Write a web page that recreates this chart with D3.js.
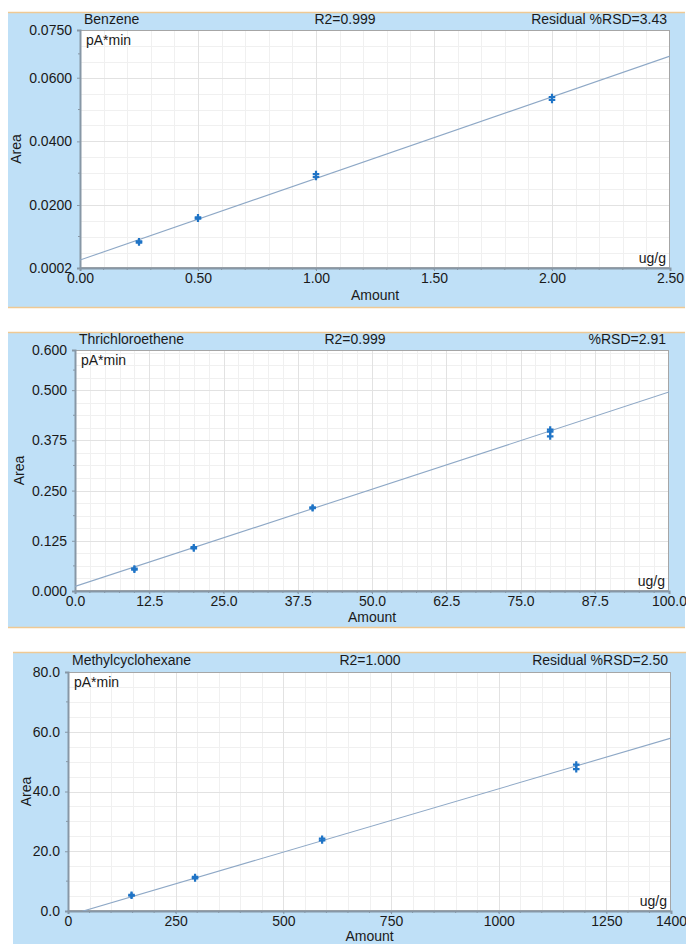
<!DOCTYPE html>
<html><head><meta charset="utf-8">
<script src="https://cdn.jsdelivr.net/npm/d3@7"></script>
<style>
body{margin:0;background:#fff;}
svg{display:block;font-family:"Liberation Sans",Arial,sans-serif;}
</style>
</head><body><svg id="c" width="686" height="944"></svg>
<script>
// ---------- data ----------
const benzeneAmount = [0.25, 0.25, 0.5, 0.5, 1.0, 1.0, 2.0, 2.0];
const benzeneArea   = [0.0082, 0.0086, 0.0157, 0.0161, 0.0288, 0.0297, 0.0530, 0.0539];
const benzeneFit    = [0.0027, 0.02564];           // intercept, slope
const benzeneXTicks = [0, 0.5, 1.0, 1.5, 2.0, 2.5];
const benzeneXLabels = ["0.00", "0.50", "1.00", "1.50", "2.00", "2.50"];
const benzeneYTicks = [0.0002, 0.02, 0.04, 0.06, 0.075];
const benzeneYLabels = ["0.0002", "0.0200", "0.0400", "0.0600", "0.0750"];

const tceAmount = [10, 10, 20, 20, 40, 40, 80, 80, 80];
const tceArea   = [0.053, 0.056, 0.106, 0.109, 0.206, 0.208, 0.385, 0.397, 0.402];
const tceFit    = [0.0114, 0.00484];
const tceXTicks = [0, 12.5, 25, 37.5, 50, 62.5, 75, 87.5, 100];
const tceXLabels = ["0.0", "12.5", "25.0", "37.5", "50.0", "62.5", "75.0", "87.5", "100.0"];
const tceYTicks = [0, 0.125, 0.25, 0.375, 0.5, 0.6];
const tceYLabels = ["0.000", "0.125", "0.250", "0.375", "0.500", "0.600"];

const mchAmount = [147.5, 147.5, 295, 295, 590, 590, 1180, 1180];
const mchArea   = [5.1, 5.4, 10.9, 11.4, 23.6, 24.2, 47.5, 49.0];
const mchFit    = [-1.506, 0.04242];
const mchXTicks = [0, 250, 500, 750, 1000, 1250, 1400];
const mchXLabels = ["0", "250", "500", "750", "1000", "1250", "1400"];
const mchYTicks = [0, 20, 40, 60, 80];
const mchYLabels = ["0.0", "20.0", "40.0", "60.0", "80.0"];

const titles = ["Benzene", "Thrichloroethene", "Methylcyclohexane"];
const r2Texts = ["R2=0.999", "R2=0.999", "R2=1.000"];
const rsdTexts = ["Residual %RSD=3.43", "%RSD=2.91", "Residual %RSD=2.50"];

// ---------- layout ----------
const panels = [
  {title: titles[0], r2: r2Texts[0], rsd: rsdTexts[0], amount: benzeneAmount, area: benzeneArea, fit: benzeneFit,
   xTicks: benzeneXTicks, xLabels: benzeneXLabels, yTicks: benzeneYTicks, yLabels: benzeneYLabels,
   xDomain: [0, 2.5], yDomain: [0.0002, 0.075], xMinor: 0.1, yMinor: 0.005,
   box: {x0: 8, x1: 685, y0: 12, y1: 308}, plot: {l: 80, r: 670, t: 30, b: 268}, r2x: 345, areaX: 17, amtDy: 28},
  {title: titles[1], r2: r2Texts[1], rsd: rsdTexts[1], amount: tceAmount, area: tceArea, fit: tceFit,
   xTicks: tceXTicks, xLabels: tceXLabels, yTicks: tceYTicks, yLabels: tceYLabels,
   xDomain: [0, 100], yDomain: [0, 0.6], xMinor: 2.5, yMinor: 0.03125,
   box: {x0: 8, x1: 685, y0: 332, y1: 628}, plot: {l: 75, r: 669, t: 350, b: 591}, r2x: 355, areaX: 20, amtDy: 27},
  {title: titles[2], r2: r2Texts[2], rsd: rsdTexts[2], amount: mchAmount, area: mchArea, fit: mchFit,
   xTicks: mchXTicks, xLabels: mchXLabels, yTicks: mchYTicks, yLabels: mchYLabels,
   xDomain: [0, 1400], yDomain: [0, 80], xMinor: 50, yMinor: 5,
   box: {x0: 13, x1: 686, y0: 652, y1: 960}, plot: {l: 68, r: 671, t: 672, b: 911}, r2x: 370, areaX: 27, amtDy: 26}
];

const svg = d3.select("#c");

panels.forEach((p, pi) => {
  const g = svg.append("g");
  const B = p.box, P = p.plot;
  // panel background
  g.append("rect").attr("x", B.x0).attr("y", B.y0).attr("width", B.x1 - B.x0).attr("height", B.y1 - B.y0)
    .attr("fill", "#bfe0f7");
  g.append("line").attr("x1", B.x0).attr("x2", B.x1).attr("y1", B.y0 + 0.5).attr("y2", B.y0 + 0.5)
    .attr("stroke", "#efc994").attr("stroke-width", 1.5);
  g.append("line").attr("x1", B.x0).attr("x2", B.x1).attr("y1", B.y1 - 0.5).attr("y2", B.y1 - 0.5)
    .attr("stroke", "#efc994").attr("stroke-width", 1.5);

  const x = d3.scaleLinear().domain(p.xDomain).range([P.l, P.r]);
  const y = d3.scaleLinear().domain(p.yDomain).range([P.b, P.t]);

  // plot area
  g.append("rect").attr("x", P.l).attr("y", P.t).attr("width", P.r - P.l).attr("height", P.b - P.t)
    .attr("fill", "#ffffff");

  // minor grid
  const xm = d3.range(p.xDomain[0] + p.xMinor, p.xDomain[1] - 1e-9, p.xMinor);
  const ym = d3.range(Math.ceil(p.yDomain[0] / p.yMinor) * p.yMinor, p.yDomain[1] - 1e-9, p.yMinor).filter(v => v > p.yDomain[0] + 1e-9);
  g.append("g").selectAll("line").data(xm).join("line")
    .attr("x1", d => Math.round(x(d)) + 0.5).attr("x2", d => Math.round(x(d)) + 0.5)
    .attr("y1", P.t).attr("y2", P.b).attr("stroke", "#f0f0f0").attr("stroke-width", 1);
  g.append("g").selectAll("line").data(ym).join("line")
    .attr("y1", d => Math.round(y(d)) + 0.5).attr("y2", d => Math.round(y(d)) + 0.5)
    .attr("x1", P.l).attr("x2", P.r).attr("stroke", "#f0f0f0").attr("stroke-width", 1);
  // major grid
  g.append("g").selectAll("line").data(p.xTicks.slice(1, -1)).join("line")
    .attr("x1", d => Math.round(x(d)) + 0.5).attr("x2", d => Math.round(x(d)) + 0.5)
    .attr("y1", P.t).attr("y2", P.b).attr("stroke", "#e2e2e2").attr("stroke-width", 1);
  g.append("g").selectAll("line").data(p.yTicks.slice(1, -1)).join("line")
    .attr("y1", d => Math.round(y(d)) + 0.5).attr("y2", d => Math.round(y(d)) + 0.5)
    .attr("x1", P.l).attr("x2", P.r).attr("stroke", "#e2e2e2").attr("stroke-width", 1);

  // plot border (top/right)
  g.append("rect").attr("x", P.l + 0.5).attr("y", P.t + 0.5).attr("width", P.r - P.l - 1).attr("height", P.b - P.t - 1)
    .attr("fill", "none").attr("stroke", "#a6a6a6").attr("stroke-width", 1);

  // axes
  const xAxis = d3.axisBottom(x).tickValues(p.xTicks).tickFormat((d, i) => p.xLabels[i]).tickSize(3).tickPadding(2);
  const yAxis = d3.axisLeft(y).tickValues(p.yTicks).tickFormat((d, i) => p.yLabels[i]).tickSize(3).tickPadding(5);
  const gx = g.append("g").attr("transform", `translate(0,${P.b})`).call(xAxis);
  const gy = g.append("g").attr("transform", `translate(${P.l},0)`).call(yAxis);
  [gx, gy].forEach(a => {
    a.select(".domain").attr("stroke", "#8797a6").attr("stroke-width", 2);
    a.selectAll(".tick line").attr("stroke", "#8797a6");
    a.selectAll(".tick text").attr("fill", "#1a1a1a").style("font-size", "14px")
      .style("font-family", "'Liberation Sans', Arial, sans-serif");
  });
  gx.selectAll(".tick text").attr("dy", "0.71em");
  // minor ticks
  g.append("g").selectAll("line").data(xm).join("line")
    .attr("x1", d => x(d)).attr("x2", d => x(d)).attr("y1", P.b).attr("y2", P.b + 2)
    .attr("stroke", "#8797a6");
  const ymid = d3.pairs(p.yTicks).map(([a, b]) => (a + b) / 2);
  g.append("g").selectAll("line").data(ymid).join("line")
    .attr("y1", d => y(d)).attr("y2", d => y(d)).attr("x1", P.l - 2).attr("x2", P.l)
    .attr("stroke", "#8797a6");

  // fit line (clipped)
  const cid = "clip" + pi;
  g.append("clipPath").attr("id", cid).append("rect")
    .attr("x", P.l).attr("y", P.t).attr("width", P.r - P.l).attr("height", P.b - P.t);
  const x0 = p.xDomain[0], x1 = p.xDomain[1];
  g.append("line").attr("clip-path", `url(#${cid})`)
    .attr("x1", x(x0)).attr("y1", y(p.fit[0] + p.fit[1] * x0))
    .attr("x2", x(x1)).attr("y2", y(p.fit[0] + p.fit[1] * x1))
    .attr("stroke", "#8ea8c6").attr("stroke-width", 1.1);

  // points
  const pts = p.amount.map((a, i) => [a, p.area[i]]);
  g.append("g").selectAll("path").data(pts).join("path")
    .attr("transform", d => `translate(${x(d[0])},${y(d[1])})`)
    .attr("d", d3.symbol().type(d3.symbolCross).size(24))
    .attr("fill", "#1f74c6");

  // texts
  const txt = (tx, ty, s, anchor) => g.append("text").attr("x", tx).attr("y", ty).text(s)
    .attr("text-anchor", anchor || "start").attr("dominant-baseline", "middle")
    .attr("fill", "#1a1a1a").style("font-size", "14px");
  const ty = (B.y0 + P.t) / 2 - 0.5;
  txt(P.l + 4, ty, p.title);
  txt(p.r2x, ty, p.r2, "middle");
  txt(P.r - 3, ty, p.rsd, "end");
  txt(P.l + 6, P.t + 11, "pA*min");
  txt(P.r - 4, P.b - 9, "ug/g", "end");
  txt((P.l + P.r) / 2, P.b + p.amtDy, "Amount", "middle");
  g.append("text").attr("transform", `translate(${p.areaX},${(P.t + P.b) / 2}) rotate(-90)`)
    .attr("text-anchor", "middle").attr("dominant-baseline", "middle")
    .attr("fill", "#1a1a1a").style("font-size", "14px").text("Area");
});
</script>
</body></html>
